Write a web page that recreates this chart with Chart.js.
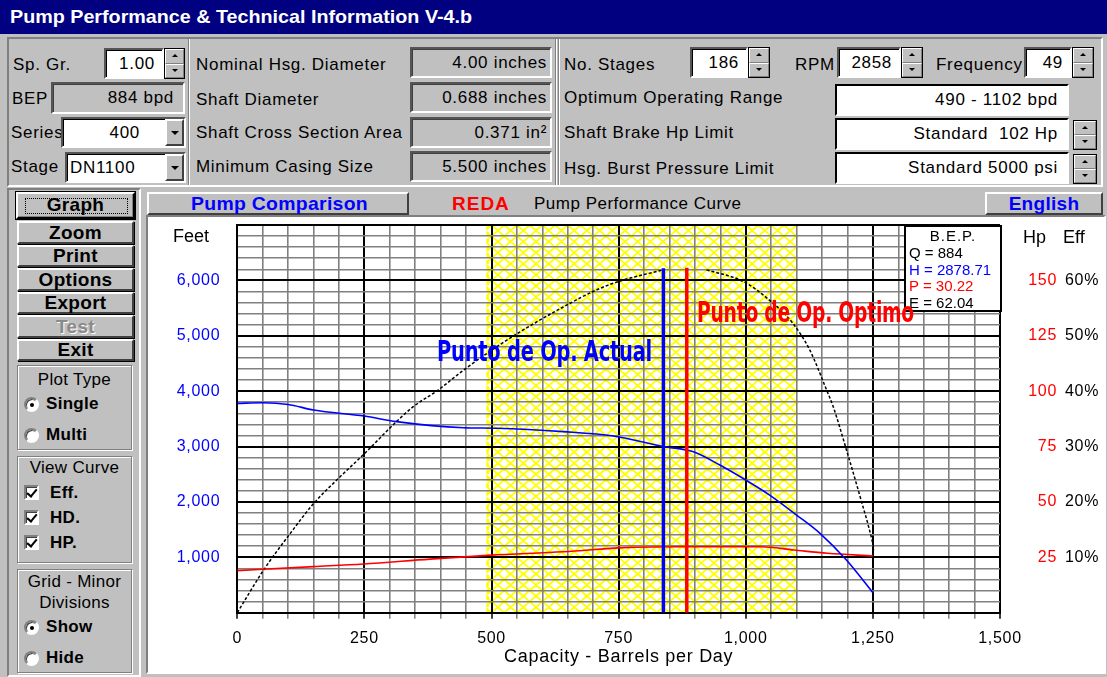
<!DOCTYPE html>
<html><head><meta charset="utf-8">
<script src="https://cdn.jsdelivr.net/npm/chart.js@4.4.1/dist/chart.umd.min.js"></script>
<style>
*{box-sizing:border-box;margin:0;padding:0}
body{width:1107px;height:677px;background:#c0c0c0;position:relative;overflow:hidden;font-family:"Liberation Sans",Arial,sans-serif;font-size:17px;color:#000;letter-spacing:.7px}
.a{position:absolute}
.title{left:0;top:0;width:1107px;height:34px;background:#000080;color:#fff;font-weight:bold;font-size:19px;line-height:34px;padding-left:10px;letter-spacing:0}
.l{position:absolute;white-space:nowrap;line-height:20px}
.tb{position:absolute;background:#fff;border:2px solid;border-color:#555 #fff #fff #555;box-shadow:inset 1px 1px 0 #000;text-align:right;padding-right:7px;white-space:nowrap;overflow:hidden}
.ro{background:#c0c0c0;box-shadow:inset 1px 1px 0 #404040}
.spin{position:absolute;display:flex;flex-direction:column;border:1px solid #000}
.spin b{flex:1;position:relative;background:#c0c0c0;border:1px solid;border-color:#fff #808080 #808080 #fff}
.spin b::after{content:"";position:absolute;left:50%;top:50%;width:0;height:0;margin:-2px 0 0 -3px;border-left:3px solid transparent;border-right:3px solid transparent}
.spin b.u::after{border-bottom:3px solid #000}
.spin b.d::after{border-top:3px solid #000}
.dd{position:absolute;background:#c0c0c0;border:2px solid;border-color:#fff #404040 #404040 #fff}
.dd::after{content:"";position:absolute;left:50%;top:50%;width:0;height:0;margin:-2px 0 0 -4px;border-left:4px solid transparent;border-right:4px solid transparent;border-top:4px solid #000}
.btn{position:absolute;background:#c0c0c0;border:2px solid;border-color:#fff #404040 #404040 #fff;box-shadow:1px 1px 0 #000;text-align:center;font-weight:bold;font-size:19px;letter-spacing:.3px;white-space:nowrap}
.grp{position:absolute;border:1px solid #808080;box-shadow:inset 1px 1px 0 #fff,1px 1px 0 #fff}
.rad{position:absolute;width:15px;height:15px;border-radius:50%;background:#fff;border:2px solid;border-color:#808080 #fff #fff #808080;box-shadow:inset 1px 1px 0 #404040}
.rad.on::after{content:"";position:absolute;left:3.5px;top:3.5px;width:4px;height:4px;border-radius:50%;background:#000}
.chk{position:absolute;width:15px;height:15px;background:#fff;border:2px solid;border-color:#808080 #fff #fff #808080;box-shadow:inset 1px 1px 0 #404040}
.chk::after{content:"";position:absolute;left:3px;top:0px;width:4px;height:8px;border-right:2px solid #000;border-bottom:2px solid #000;transform:rotate(40deg)}
.bl{font-weight:bold;letter-spacing:.3px}
.vl{position:absolute;width:2px;border-left:1px solid #808080;border-right:1px solid #fff}
#panel{position:absolute;left:146px;top:215px;width:960px;height:459px;border:2px solid;border-color:#808080 #fff #fff #808080;background:#fff}
.ov{position:absolute;white-space:nowrap;letter-spacing:0}
.bep{position:absolute;left:904px;top:225px;width:98px;height:87px;background:#fff;border:2px solid #000;font-size:15px;line-height:16.8px;letter-spacing:0;padding:1px 0 0 3px}
.bep div{white-space:nowrap}
.punto{position:absolute;font-family:"Liberation Sans Narrow","Arial Narrow","DejaVu Sans Condensed",sans-serif;font-weight:bold;font-size:28px;line-height:28px;letter-spacing:-0.3px;white-space:nowrap;transform-origin:left center}
</style></head>
<body>
<div class="a title"><span data-w="462">Pump Performance &amp; Technical Information V-4.b</span></div>

<!-- top info panel -->
<div class="a" style="left:7px;top:37px;width:1096px;height:150px;border:2px solid;border-color:#808080 #fff #fff #808080"></div>
<div class="vl" style="left:188px;top:39px;height:146px"></div>
<div class="vl" style="left:555px;top:39px;height:146px"></div>
<div class="vl" style="left:558px;top:39px;height:146px"></div>

<div class="l" style="left:13px;top:55px">Sp. Gr.</div>
<div class="tb" style="left:104px;top:48px;width:60px;height:31px;line-height:27px">1.00</div>
<div class="spin" style="left:164px;top:48px;width:21px;height:31px"><b class="u"></b><b class="d"></b></div>

<div class="l" style="left:12px;top:89px">BEP</div>
<div class="tb ro" style="left:51px;top:82px;width:134px;height:32px;line-height:28px;padding-right:9px">884 bpd</div>

<div class="l" style="left:11px;top:123px">Series</div>
<div class="tb" style="left:61px;top:117px;width:125px;height:31px;line-height:27px;padding-right:44px">400</div>
<div class="dd" style="left:165px;top:119px;width:19px;height:27px"></div>

<div class="l" style="left:11px;top:157px">Stage</div>
<div class="tb" style="left:65px;top:152px;width:121px;height:31px;line-height:27px;text-align:left;padding-left:3px">DN1100</div>
<div class="dd" style="left:165px;top:154px;width:19px;height:27px"></div>

<div class="l" style="left:196px;top:55px">Nominal Hsg. Diameter</div>
<div class="l" style="left:196px;top:90px">Shaft Diameter</div>
<div class="l" style="left:196px;top:123px">Shaft Cross Section Area</div>
<div class="l" style="left:196px;top:157px">Minimum Casing Size</div>
<div class="tb ro" style="left:410px;top:47px;width:142px;height:31px;line-height:27px;padding-right:3px">4.00 inches</div>
<div class="tb ro" style="left:410px;top:82px;width:142px;height:31px;line-height:27px;padding-right:3px">0.688 inches</div>
<div class="tb ro" style="left:410px;top:117px;width:142px;height:31px;line-height:27px;padding-right:3px">0.371 in²</div>
<div class="tb ro" style="left:410px;top:151px;width:142px;height:31px;line-height:27px;padding-right:3px">5.500 inches</div>

<div class="l" style="left:564px;top:55px">No. Stages</div>
<div class="tb" style="left:690px;top:47px;width:58px;height:31px;line-height:27px">186</div>
<div class="spin" style="left:748px;top:47px;width:22px;height:31px"><b class="u"></b><b class="d"></b></div>
<div class="l" style="left:795px;top:55px">RPM</div>
<div class="tb" style="left:837px;top:47px;width:64px;height:31px;line-height:27px">2858</div>
<div class="spin" style="left:901px;top:47px;width:22px;height:31px"><b class="u"></b><b class="d"></b></div>
<div class="l" style="left:936px;top:55px">Frequency</div>
<div class="tb" style="left:1024px;top:47px;width:48px;height:31px;line-height:27px">49</div>
<div class="spin" style="left:1072px;top:47px;width:22px;height:31px"><b class="u"></b><b class="d"></b></div>

<div class="l" style="left:564px;top:88px">Optimum Operating Range</div>
<div class="tb" style="left:835px;top:84px;width:234px;height:32px;line-height:28px;padding-right:9px;box-shadow:none;border-color:#000 #fff #fff #000">490 - 1102 bpd</div>
<div class="l" style="left:564px;top:123px">Shaft Brake Hp Limit</div>
<div class="tb" style="left:835px;top:118px;width:234px;height:32px;line-height:28px;padding-right:9px;box-shadow:none;border-color:#000 #fff #fff #000">Standard&nbsp;&nbsp;102 Hp</div>
<div class="spin" style="left:1073px;top:120px;width:24px;height:30px"><b class="u"></b><b class="d"></b></div>
<div class="l" style="left:564px;top:159px">Hsg. Burst Pressure Limit</div>
<div class="tb" style="left:835px;top:152px;width:234px;height:32px;line-height:28px;padding-right:9px;box-shadow:none;border-color:#000 #fff #fff #000">Standard 5000 psi</div>
<div class="spin" style="left:1073px;top:154px;width:24px;height:30px"><b class="u"></b><b class="d"></b></div>

<!-- lower section frames -->
<div class="a" style="left:7px;top:188px;width:134px;height:489px;border:2px solid;border-color:#808080 #fff #fff #808080"></div>

<!-- left buttons -->
<div class="btn" style="left:16px;top:192px;width:119px;height:27px;line-height:22px;border-color:#fff #000 #000 #fff;box-shadow:inset -1px -1px 0 #808080,0 0 0 1px #000">Graph</div>
<div class="a" style="left:25px;top:198px;width:103px;height:16px;border:1px dotted #000"></div>
<div class="btn" style="left:17px;top:221px;width:117px;height:23px;line-height:19px">Zoom</div>
<div class="btn" style="left:17px;top:245px;width:117px;height:22px;line-height:18px">Print</div>
<div class="btn" style="left:17px;top:268px;width:117px;height:23px;line-height:19px">Options</div>
<div class="btn" style="left:17px;top:292px;width:117px;height:22px;line-height:18px">Export</div>
<div class="btn" style="left:17px;top:315px;width:117px;height:23px;line-height:19px;color:#8a8a8a;text-shadow:1px 1px 0 #fff">Test</div>
<div class="btn" style="left:17px;top:339px;width:117px;height:22px;line-height:18px">Exit</div>

<div class="grp" style="left:17px;top:365px;width:115px;height:85px"></div>
<div class="l" style="left:17px;top:370px;width:115px;text-align:center;letter-spacing:.3px">Plot Type</div>
<div class="rad on" style="left:24px;top:397px"></div><div class="l bl" style="left:46px;top:394px">Single</div>
<div class="rad" style="left:24px;top:428px"></div><div class="l bl" style="left:46px;top:425px">Multi</div>

<div class="grp" style="left:17px;top:456px;width:115px;height:107px"></div>
<div class="l" style="left:17px;top:458px;width:115px;text-align:center;letter-spacing:.3px">View Curve</div>
<div class="chk" style="left:24px;top:485px"></div><div class="l bl" style="left:50px;top:483px">Eff.</div>
<div class="chk" style="left:24px;top:510px"></div><div class="l bl" style="left:50px;top:508px">HD.</div>
<div class="chk" style="left:24px;top:535px"></div><div class="l bl" style="left:50px;top:533px">HP.</div>

<div class="grp" style="left:17px;top:569px;width:115px;height:104px"></div>
<div class="l" style="left:17px;top:572px;width:115px;text-align:center;letter-spacing:.3px">Grid - Minor</div>
<div class="l" style="left:17px;top:593px;width:115px;text-align:center;letter-spacing:.3px">Divisions</div>
<div class="rad on" style="left:24px;top:620px"></div><div class="l bl" style="left:46px;top:617px">Show</div>
<div class="rad" style="left:24px;top:651px"></div><div class="l bl" style="left:46px;top:648px">Hide</div>

<!-- chart header -->
<div class="btn" style="left:147px;top:192px;width:262px;height:23px;line-height:19px;color:#0000ff;box-shadow:none"><span data-w="177">Pump Comparison</span></div>
<div class="ov" style="left:452px;top:192px;line-height:23px;color:#ff0000;font-weight:bold;font-size:19px;letter-spacing:1px">REDA</div>
<div class="ov" style="left:534px;top:192px;line-height:23px;font-size:17px;letter-spacing:.5px">Pump Performance Curve</div>
<div class="btn" style="left:985px;top:192px;width:118px;height:23px;line-height:19px;color:#0000ff;box-shadow:none">English</div>

<div id="panel"></div>
<canvas id="c" width="957" height="455" style="position:absolute;left:148px;top:217px"></canvas>

<div class="ov" style="left:173px;top:226px;font-size:18px;line-height:20px">Feet</div>
<div class="ov" style="left:1023px;top:227px;font-size:18px;line-height:20px">Hp</div>
<div class="ov" style="left:1063px;top:227px;font-size:18px;line-height:20px">Eff</div>

<div class="bep">
  <div style="text-align:center;padding-right:3px;letter-spacing:1px">B.E.P.</div>
  <div>Q = 884</div>
  <div style="color:#0000ff">H = 2878.71</div>
  <div style="color:#ff0000">P = 30.22</div>
  <div>E = 62.04</div>
</div>
<div class="punto" style="left:437px;top:338px;color:#0000ff" data-w="215">Punto de Op. Actual</div>
<div class="punto" style="left:697px;top:299px;color:#ff0000" data-w="217">Punto de Op. Optimo</div>

<script>
// ---- data ----
const qHead    = [0, 50, 100, 150, 250, 313, 445, 510, 641, 740, 838, 897, 949, 1000, 1047, 1100, 1146, 1198, 1250];
const headFeet = [3780, 3790, 3760, 3660, 3550, 3450, 3340, 3330, 3270, 3190, 3000, 2906, 2666, 2395, 2124, 1763, 1433, 950, 361];

const qHp     = [0, 150, 248, 379, 500, 641, 773, 872, 1030, 1095, 1161, 1250];
const brakeHp = [19.0, 20.8, 22.0, 24.2, 26.0, 27.5, 29.5, 29.8, 29.8, 28.3, 26.8, 25.6];

const qEff   = [0, 51, 104, 150, 196, 251, 313, 346, 395, 445, 510, 556, 641, 707, 753, 838, 880, 923, 995, 1047, 1093, 1126, 1159, 1172, 1198, 1225, 1248, 1252];
const effPct = [0, 7.6, 14.3, 19.7, 24.0, 28.8, 34.5, 37.2, 40.2, 43.8, 48.0, 50.7, 55.2, 58.3, 59.9, 61.9, null, 61.9, 59.8, 56.4, 52.2, 47.4, 40.2, 37.2, 29.4, 20.9, 13.2, 11.4];

const optimumRange = [490, 1102];      // bpd
const actualOp     = [838, 6220];      // [bpd, top in feet]
const optimumOp    = [884, 6230];      // [bpd, top in feet]

const xRange   = [0, 1500];  const xMajor = 250;  const xMinor = 50;
const feetRange = [0, 7000]; const feetMajor = 1000; const feetMinor = 200;
const hpRange  = [0, 175];   const hpTicks  = [25, 50, 75, 100, 125, 150];
const effRange = [0, 70];    const effTicks = [10, 20, 30, 40, 50, 60];

// ---- fit some texts to reference widths ----
document.querySelectorAll('[data-w]').forEach(el => {
  el.style.display = 'inline-block';
  el.style.transformOrigin = 'left center';
  const w = el.getBoundingClientRect().width;
  if (w > 0) el.style.transform = 'scaleX(' + (el.dataset.w / w) + ')';
});

const pts = (xs, ys) => xs.map((v, i) => ({x: v, y: ys[i]}));
const fmt = v => v.toLocaleString('en-US');

const bandPlugin = {
  id: 'band',
  beforeDraw(chart) {
    const {ctx, chartArea: a, scales: {x, y}} = chart;
    ctx.save();
    ctx.fillStyle = '#fff';
    ctx.fillRect(0, 0, chart.width, chart.height);
    const x0 = x.getPixelForValue(optimumRange[0]), x1 = x.getPixelForValue(optimumRange[1]);
    ctx.beginPath(); ctx.rect(x0, a.top, x1 - x0, a.bottom - a.top); ctx.clip();
    ctx.strokeStyle = '#ffff00'; ctx.lineWidth = 1.8;
    ctx.beginPath();
    const qs = xMinor / 2, fs = feetMinor;
    for (let q = Math.floor(optimumRange[0] / qs) * qs; q < optimumRange[1]; q += qs) {
      const px0 = x.getPixelForValue(q), px1 = x.getPixelForValue(q + qs);
      for (let f = feetRange[0]; f < feetRange[1]; f += fs) {
        const py0 = y.getPixelForValue(f), py1 = y.getPixelForValue(f + fs);
        ctx.moveTo(px0, py0); ctx.lineTo(px1, py1);
        ctx.moveTo(px1, py0); ctx.lineTo(px0, py1);
      }
    }
    ctx.stroke();
    ctx.lineWidth = 3; ctx.setLineDash([4, 3]);
    ctx.beginPath(); ctx.moveTo(x0 + 1, a.top); ctx.lineTo(x0 + 1, a.bottom); ctx.stroke();
    ctx.restore();
  }
};

const isMajor = ctx => ctx.tick && ctx.tick.value % (ctx.scale.axis === 'x' ? xMajor : feetMajor) === 0;
const gridColor = ctx => isMajor(ctx) ? '#000' : '#808080';
const gridWidth = ctx => isMajor(ctx) ? 2 : 1.6;
const tickFont = {family: '"Liberation Sans", Arial, sans-serif', size: 16, lineHeight: 1};
const TARGET = {top: 8};

const chart = new Chart(document.getElementById('c'), {
  type: 'line',
  data: {
    datasets: [
      {data: pts([actualOp[0], actualOp[0]], [0, actualOp[1]]), borderColor: '#0000ff', borderWidth: 3.5, yAxisID: 'y'},
      {data: pts([optimumOp[0], optimumOp[0]], [0, optimumOp[1]]), borderColor: '#ff0000', borderWidth: 3.5, yAxisID: 'y'},
      {data: pts(qHead, headFeet), borderColor: '#0000ff', borderWidth: 1.6, yAxisID: 'y', cubicInterpolationMode: 'monotone'},
      {data: pts(qHp, brakeHp), borderColor: '#ff0000', borderWidth: 1.6, yAxisID: 'yHp', cubicInterpolationMode: 'monotone'},
      {data: pts(qEff, effPct), borderColor: '#000', borderWidth: 1.5, borderDash: [3, 2], yAxisID: 'yEff', cubicInterpolationMode: 'monotone', spanGaps: false}
    ]
  },
  options: {
    responsive: false, animation: false, devicePixelRatio: 1,
    layout: {padding: {top: 8, left: 0, right: 0, bottom: 0}},
    elements: {point: {radius: 0, hoverRadius: 0, borderWidth: 0}, line: {fill: false}},
    plugins: {legend: {display: false}, tooltip: {enabled: false}},
    scales: {
      x: {
        type: 'linear', position: 'bottom', min: xRange[0], max: xRange[1],
        afterFit: s => { s.height = 59.3; },
        ticks: {stepSize: xMinor, maxTicksLimit: 200, autoSkip: false, maxRotation: 0, padding: 12, color: '#000', font: tickFont,
          callback: v => v % xMajor === 0 ? fmt(v) : ''},
        grid: {color: gridColor, lineWidth: gridWidth, tickLength: 6, tickColor: gridColor, tickWidth: 1.5},
        border: {color: '#000', width: 2},
        title: {display: true, text: 'Capacity - Barrels per Day', color: '#000', font: {family: '"Liberation Sans", Arial, sans-serif', size: 18}, padding: {top: 0, bottom: 4}}
      },
      y: {
        type: 'linear', position: 'left', min: feetRange[0], max: feetRange[1],
        afterFit: s => { s.width = 89.3; },
        ticks: {stepSize: feetMinor, maxTicksLimit: 200, autoSkip: false, padding: 0, color: '#0000ff', font: tickFont,
          callback: v => (v % feetMajor === 0 && v > feetRange[0] && v < feetRange[1]) ? fmt(v) : ''},
        grid: {color: gridColor, lineWidth: gridWidth, drawTicks: true, tickLength: 17, tickColor: 'rgba(0,0,0,0)'},
        border: {color: '#000', width: 2}
      },
      yHp: {
        type: 'linear', position: 'right', min: hpRange[0], max: hpRange[1],
        afterFit: s => { s.width = 57; },
        ticks: {stepSize: 25, padding: 0, crossAlign: 'far', color: '#ff0000', font: tickFont,
          callback: v => hpTicks.includes(v) ? String(v) : ''},
        grid: {display: false, drawTicks: true, tickLength: 29}, border: {display: false}
      },
      yEff: {
        type: 'linear', position: 'right', min: effRange[0], max: effRange[1],
        afterFit: s => { s.width = 48; },
        ticks: {stepSize: 10, padding: 0, crossAlign: 'near', color: '#000', font: tickFont,
          callback: v => effTicks.includes(v) ? v + '%' : ''},
        grid: {display: false, drawTicks: true, tickLength: 8}, border: {display: false}
      }
    }
  },
  plugins: [bandPlugin]
});

// keep the plot area where the reference has it
for (let k = 0; k < 3; k++) {
  const a = chart.chartArea, p = chart.options.layout.padding;
  const dt = TARGET.top - a.top;
  if (Math.abs(dt) < 0.3) break;
  p.top += dt;
  chart.update();
}
</script>
</body></html>
